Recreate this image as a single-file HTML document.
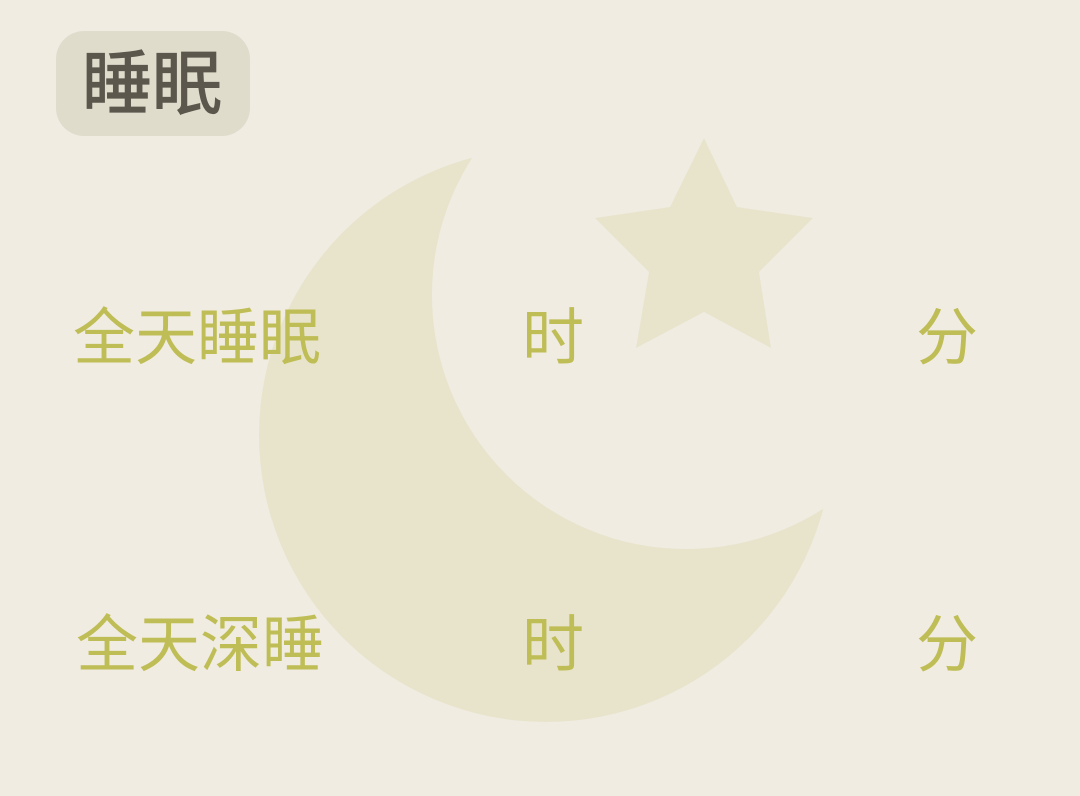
<!DOCTYPE html>
<html><head><meta charset="utf-8">
<style>
html,body{margin:0;padding:0;}
body{width:1080px;height:796px;background:#f0ece2;position:relative;overflow:hidden;font-family:"Liberation Sans","Noto Sans CJK SC",sans-serif;}
.bg{position:absolute;left:0;top:0;}
.badge{position:absolute;left:56px;top:31px;width:194px;height:105px;border-radius:28px;background:#dfdccc;}
.badge span{position:absolute;left:26px;top:12px;font-size:70px;line-height:82px;color:#5c574d;font-weight:normal;-webkit-text-stroke:1.2px #5c574d;}
.t{position:absolute;font-size:62px;line-height:70px;color:#bfbd55;white-space:nowrap;}
</style></head>
<body>
<svg class="bg" width="1080" height="796">
<defs><mask id="m"><rect width="1080" height="796" fill="#fff"/><circle cx="686" cy="295" r="254" fill="#000"/></mask></defs>
<circle cx="546" cy="435" r="287" fill="#e8e4cc" mask="url(#m)"/>
<polygon fill="#e8e4cc" points="704,138 737,207 813,218 759,272 771,348 704,312 636,348 649,272 595,218 670,207"/>
</svg>
<div class="badge"><span>睡眠</span></div>
<div class="t" style="left:73px;top:304px;">全天睡眠</div>
<div class="t" style="left:522px;top:304px;">时</div>
<div class="t" style="left:916px;top:304px;">分</div>
<div class="t" style="left:76px;top:611px;">全天深睡</div>
<div class="t" style="left:522px;top:611px;">时</div>
<div class="t" style="left:916px;top:611px;">分</div>
</body></html>
